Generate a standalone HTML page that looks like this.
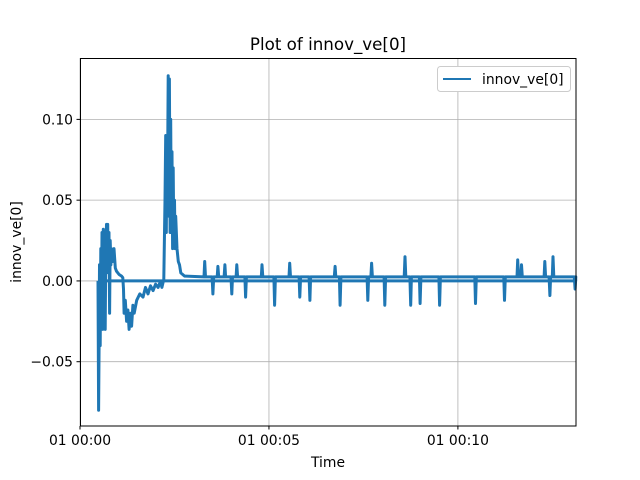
<!DOCTYPE html>
<html><head><meta charset="utf-8"><style>body{margin:0;background:#fff}svg{display:block;font-family:"DejaVu Sans","Liberation Sans",sans-serif}</style></head>
<body>
<svg id="chart" width="640" height="480">
<rect width="640" height="480" fill="#fff"/>
<g id="grid"></g>
<g id="series"></g>
<rect x="80.5" y="58.5" width="495.5" height="367.5" fill="none" stroke="#000" stroke-width="1"/>
<g id="ticks"></g>
<text x="328" y="50" text-anchor="middle" font-size="16.7">Plot of innov_ve[0]</text>
<text x="328" y="467" text-anchor="middle" font-size="13.9">Time</text>
<text transform="translate(21,242) rotate(-90)" text-anchor="middle" font-size="13.9">innov_ve[0]</text>
<g>
<rect x="437.5" y="66.5" width="133" height="25" rx="3" fill="#fff" stroke="#ccc"/>
<line x1="443" y1="79" x2="471" y2="79" stroke="#1f77b4" stroke-width="2"/>
<text x="482" y="84" font-size="13.9">innov_ve[0]</text>
</g>
</svg>
<script>
const times=[28.6,29.5,30.5,31,32,33,34,35,36,37,38,39,40,41,42,43,44,45,46,47,48,49,50,52,54,56,58,62,66,68,69,70,72,74,76,78,80,82,84,86,90,95,100,104,108,112,116,120,124,128,130,133,135,136,137,138,139,140,141,142,143,144,145,146,147,148,149,150,151,152,154,156,158,160,163,166,168];
const values=[0,-0.08,-0.03,0.01,-0.04,0.02,-0.02,0.03,-0.03,0.032,-0.01,0.03,-0.03,0.02,0.035,0.01,0.035,0.005,0.03,-0.02,0.025,0.01,0.02,0.012,0.02,0.008,0.006,0.004,0.003,0.002,-0.005,-0.02,-0.012,-0.025,-0.018,-0.03,-0.02,-0.028,-0.015,-0.02,-0.012,-0.008,-0.01,-0.004,-0.008,-0.003,-0.006,-0.002,-0.004,0,-0.004,0.001,0.05,0.09,0.03,0.085,0.06,0.127,0.04,0.125,0.03,0.1,0.03,0.08,0.02,0.07,0.025,0.05,0.02,0.04,0.02,0.012,0.01,0.005,0.004,0.003,0.003];
const spikeTimes=[198,211,219,230,241,249,263,289,309,333,349,365,405,413,457,463,484,516,525,540,571,628,674,695,701,738,746,751,786];
const spikeValues=[0.012,-0.008,0.009,0.010,-0.008,0.010,-0.010,0.010,-0.015,0.011,-0.010,-0.012,0.009,-0.015,-0.012,0.011,-0.015,0.015,-0.015,-0.014,-0.015,-0.014,-0.012,0.013,0.010,0.012,-0.009,0.015,-0.005];
const baseline=0.0025;
const endTime=787;
const yTicks=[-0.05,0,0.05,0.10];
const yTickLabels=["−0.05","0.00","0.05","0.10"];
const xTicks=[0,300,600];
const xTickLabels=["01 00:00","01 00:05","01 00:10"];
const NS="http://www.w3.org/2000/svg";
const X0=80,X1=576,T0=0,T1=787.5,Y0=426,Y1=58,V0=-0.0898,V1=0.138;
const xs=t=>X0+(t-T0)/(T1-T0)*(X1-X0);
const ys=v=>Y0-(v-V0)/(V1-V0)*(Y0-Y1);
function mk(tag,attrs,parent){const e=document.createElementNS(NS,tag);for(const k in attrs)e.setAttribute(k,attrs[k]);parent.appendChild(e);return e;}
const grid=document.getElementById('grid'),ticks=document.getElementById('ticks'),series=document.getElementById('series');
yTicks.forEach((v,i)=>{const y=ys(v);
 const g=mk('line',{x1:X0,x2:X1,y1:y,y2:y,stroke:'#b0b0b0','stroke-width':0.8},grid);
 
 
 mk('line',{x1:X0-3.5,x2:X0,y1:y,y2:y,stroke:'#000'},ticks);
 const t=mk('text',{x:X0-7,y:y+5,'text-anchor':'end','font-size':13.9},ticks);t.textContent=yTickLabels[i];
 
 });
xTicks.forEach((s,i)=>{const x=xs(s);
 const g=mk('line',{x1:x,x2:x,y1:Y1,y2:Y0,stroke:'#b0b0b0','stroke-width':0.8},grid);
 
 
 mk('line',{x1:x,x2:x,y1:Y0,y2:Y0+3.5,stroke:'#000'},ticks);
 const t=mk('text',{x:x,y:Y0+19,'text-anchor':'middle','font-size':13.9},ticks);t.textContent=xTickLabels[i];
 
 });
const P=[];
times.forEach((t,i)=>P.push([t,values[i]]));
spikeTimes.forEach((t,i)=>{P.push([t-1.2,baseline]);P.push([t,spikeValues[i]]);P.push([t+1.2,baseline]);});
P.push([endTime,baseline]);P.push([endTime,0]);P.push([times[0],0]);
const pts=P.map(p=>xs(p[0]).toFixed(1)+','+ys(p[1]).toFixed(1)).join(' ');
const line=mk('polyline',{points:pts,fill:'none',stroke:'#1f77b4','stroke-width':3,'stroke-linejoin':'round'},series);


</script>
</body></html>
